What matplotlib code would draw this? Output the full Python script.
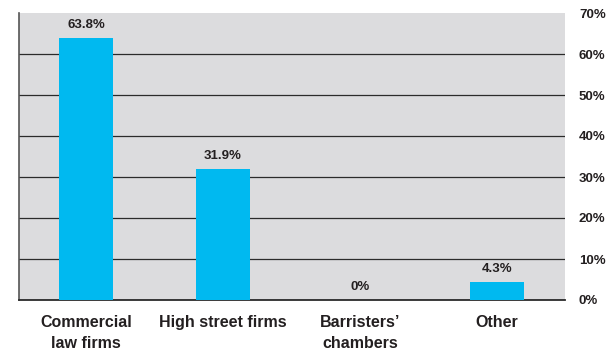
import matplotlib
matplotlib.use("Agg")
import matplotlib.pyplot as plt
from matplotlib.ticker import FuncFormatter

# share of respondents by employer type
categories = ["Commercial\nlaw firms", "High street firms", "Barristers’\nchambers", "Other"]
shares = [63.8, 31.9, 0.0, 4.3]
value_labels = ["63.8%", "31.9%", "0%", "4.3%"]
y_ticks = [0, 10, 20, 30, 40, 50, 60, 70]

plt.rcParams["font.family"] = ["Liberation Sans", "DejaVu Sans"]
plt.rcParams["font.weight"] = "bold"

bar_color = "#00b9f0"
bg_color = "#dcdcde"
ink = "#231f20"

fig = plt.figure(figsize=(6.07, 3.53), dpi=100)
ax = fig.add_axes([19 / 607, 1 - 300 / 353, (565 - 19) / 607, (300 - 13) / 353])
ax.set_facecolor(bg_color)

x = range(len(categories))
ax.bar(x, shares, width=0.394, color=bar_color, zorder=3)

for xi, v, lab in zip(x, shares, value_labels):
    ax.annotate(lab, (xi, v), xytext=(0, 5), textcoords="offset points",
                ha="center", va="bottom", fontsize=9.5, fontweight="bold",
                color=ink, zorder=4)

ax.set_xlim(-0.489, 3.496)
ax.set_ylim(0, 70)

ax.set_xticks(list(x))
ax.set_xticklabels(categories, fontsize=11.5, fontweight="bold", color=ink,
                   linespacing=1.45)
ax.tick_params(axis="x", length=0, pad=11)

ax.set_yticks(y_ticks)
ax.yaxis.set_major_formatter(FuncFormatter(lambda v, _: f"{int(v)}%"))
ax.yaxis.tick_right()
ax.tick_params(axis="y", length=0, pad=10, labelsize=9.5, labelcolor=ink)

ax.grid(axis="y", color="#2b2b2b", linewidth=0.9, zorder=1)
ax.set_axisbelow(True)
# no rule along the top edge
ax.get_ygridlines()[-1].set_visible(False)

for side in ["top", "right"]:
    ax.spines[side].set_visible(False)
ax.spines["left"].set_color("#555555")
ax.spines["left"].set_linewidth(1.2)
ax.spines["bottom"].set_color("#2b2b2b")
ax.spines["bottom"].set_linewidth(1.3)

fig.savefig("out.png", dpi=100)
